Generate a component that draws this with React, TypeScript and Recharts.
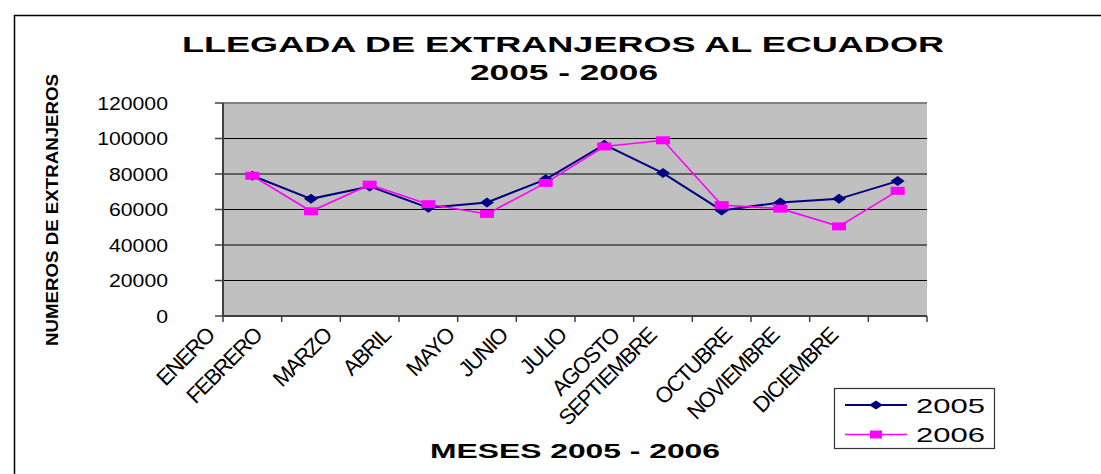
import React from 'react';
import { LineChart, Line, XAxis, YAxis, CartesianGrid, ReferenceLine } from 'recharts';

const months = ['ENERO', 'FEBRERO', 'MARZO', 'ABRIL', 'MAYO', 'JUNIO', 'JULIO', 'AGOSTO', 'SEPTIEMBRE', 'OCTUBRE', 'NOVIEMBRE', 'DICIEMBRE'];
const values2005 = [79000, 66000, 73000, 61000, 64000, 77000, 96500, 80500, 59500, 64000, 66000, 76000];
const values2006 = [79000, 59000, 74000, 63000, 57500, 75000, 95500, 99000, 62500, 60500, 50500, 70500];
const yTicks = [0, 20000, 40000, 60000, 80000, 100000, 120000];

const series = [
  { key: 'y2005', name: '2005', color: '#000080', shape: 'diamond', width: 2 },
  { key: 'y2006', name: '2006', color: '#FF00FF', shape: 'square', width: 1.6 },
];

const data = months.map((m, i) => ({ m, y2005: values2005[i], y2006: values2006[i] }));

const W = 1101;
const H = 474;
const PLOT_LEFT = 223;
const PLOT_RIGHT = 927;
const PLOT_TOP = 103;
const PLOT_BOTTOM = 316;
const BAND = (PLOT_RIGHT - PLOT_LEFT) / months.length;
const FONT = '"Liberation Sans", Arial, sans-serif';

const Diamond = (props: any) => {
  const { cx, cy, fill } = props;
  if (cx == null || cy == null) return null;
  return <polygon points={`${cx - 7},${cy} ${cx},${cy - 5} ${cx + 7},${cy} ${cx},${cy + 5}`} fill={fill} />;
};
const Square = (props: any) => {
  const { cx, cy, fill } = props;
  if (cx == null || cy == null) return null;
  return <rect x={cx - 7} y={cy - 4} width={14} height={8} fill={fill} />;
};

const XTick = (props: any) => {
  const { x, y, payload, index } = props;
  const label = String(payload.value);
  const bx = x - BAND / 2;
  const off = 5.5 * (label.length - 4) + 2;
  const ex = bx - off;
  const ey = y + 21;
  return (
    <g>
      <line x1={bx} y1={y} x2={bx} y2={y + 6} stroke="#404040" strokeWidth={1.5} />
      {index === months.length - 1 && (
        <line x1={x + BAND / 2} y1={y} x2={x + BAND / 2} y2={y + 6} stroke="#404040" strokeWidth={1.5} />
      )}
      <text
        x={ex}
        y={ey}
        textAnchor="end"
        transform={`rotate(-45 ${ex} ${ey})`}
        fontFamily={FONT}
        fontSize={22}
        letterSpacing={-1.5}
        fill="#000"
      >
        {label}
      </text>
    </g>
  );
};

const YTick = (props: any) => {
  const { x, y, payload } = props;
  const label = String(payload.value);
  return (
    <text
      x={x}
      y={y + 6.5}
      textAnchor="end"
      fontFamily={FONT}
      fontSize={18}
      textLength={label.length * 11.8}
      lengthAdjust="spacingAndGlyphs"
      fill="#000"
    >
      {label}
    </text>
  );
};

export default function App() {
  return (
    <div style={{ position: 'absolute', left: 0, top: 0, width: W, height: H, background: '#fff' }}>
      <LineChart
        width={W}
        height={H}
        data={data}
        margin={{ top: PLOT_TOP, right: W - PLOT_RIGHT, bottom: 0, left: 0 }}
      >
        <CartesianGrid vertical={false} fill="#C0C0C0" stroke="#000" strokeWidth={1} fillOpacity={1} />
        <XAxis
          dataKey="m"
          height={H - PLOT_BOTTOM}
          interval={0}
          padding={{ left: BAND / 2, right: BAND / 2 }}
          tickSize={0}
          tickMargin={0}
          tickLine={false}
          axisLine={{ stroke: '#404040', strokeWidth: 2 }}
          tick={<XTick />}
        />
        <YAxis
          width={PLOT_LEFT}
          domain={[0, 120000]}
          ticks={yTicks}
          interval={0}
          tickSize={8}
          tickMargin={47}
          axisLine={{ stroke: '#404040', strokeWidth: 2 }}
          tickLine={{ stroke: '#404040', strokeWidth: 1.5 }}
          tick={<YTick />}
        />
        <YAxis
          yAxisId="r"
          orientation="right"
          width={0}
          domain={[0, 120000]}
          tick={false}
          tickLine={false}
          axisLine={{ stroke: '#808080', strokeWidth: 2.5 }}
        />
        <ReferenceLine y={120000} stroke="#808080" strokeWidth={2} />
        {series.map((s) => (
          <Line
            key={s.key}
            dataKey={s.key}
            name={s.name}
            type="linear"
            stroke={s.color}
            strokeWidth={s.width}
            dot={s.shape === 'diamond' ? <Diamond fill={s.color} /> : <Square fill={s.color} />}
            activeDot={false}
            isAnimationActive={false}
          />
        ))}
      </LineChart>
      <svg
        width={W}
        height={H}
        style={{ position: 'absolute', left: 0, top: 0, pointerEvents: 'none' }}
      >
        <rect x={14.5} y={15.5} width={W} height={H} fill="none" stroke="#000" strokeWidth={1.5} />
        <text x={563} y={52} textAnchor="middle" fontFamily={FONT} fontWeight="bold" fontSize={22} textLength={762} lengthAdjust="spacingAndGlyphs">
          LLEGADA DE EXTRANJEROS AL ECUADOR
        </text>
        <text x={564} y={80} textAnchor="middle" fontFamily={FONT} fontWeight="bold" fontSize={22} textLength={188} lengthAdjust="spacingAndGlyphs">
          2005 - 2006
        </text>
        <text x={575} y={458} textAnchor="middle" fontFamily={FONT} fontWeight="bold" fontSize={21} textLength={290} lengthAdjust="spacingAndGlyphs">
          MESES 2005 - 2006
        </text>
        <text
          x={58}
          y={210}
          textAnchor="middle"
          transform="rotate(-90 58 210)"
          fontFamily={FONT}
          fontWeight="bold"
          fontSize={17}
          textLength={272}
          lengthAdjust="spacingAndGlyphs"
        >
          NUMEROS DE EXTRANJEROS
        </text>
        <rect x={834.5} y={388.5} width={160} height={60} fill="#fff" stroke="#333" strokeWidth={1.2} />
        {series.map((s, i) => {
          const ly = 405 + i * 29.5;
          return (
            <g key={s.key}>
              <line x1={845} y1={ly} x2={907} y2={ly} stroke={s.color} strokeWidth={s.width} />
              {s.shape === 'diamond' ? (
                <polygon points={`${869},${ly} ${876},${ly - 4.5} ${883},${ly} ${876},${ly + 4.5}`} fill={s.color} />
              ) : (
                <rect x={870} y={ly - 4} width={12} height={8} fill={s.color} />
              )}
              <text x={916} y={ly + 7.5} fontFamily={FONT} fontSize={21} textLength={69} lengthAdjust="spacingAndGlyphs">
                {s.name}
              </text>
            </g>
          );
        })}
      </svg>
    </div>
  );
}
